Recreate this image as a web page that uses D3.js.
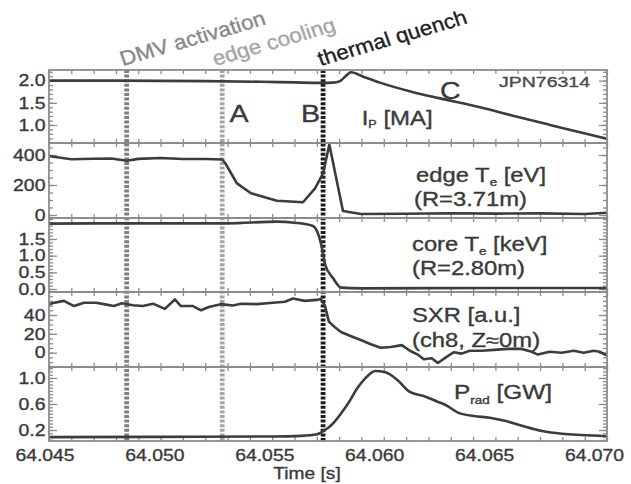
<!DOCTYPE html>
<html><head><meta charset="utf-8">
<script src="https://cdn.jsdelivr.net/npm/d3@7"></script>
<style>body{margin:0;background:#fff}svg{display:block}</style>
</head><body>
<script>
// ---------- data ----------
const timeDomain = [64.045, 64.070];
const timeTicks = [64.045, 64.050, 64.055, 64.060, 64.065, 64.070];
const eventTimes = [64.04848, 64.05276, 64.05728];
const eventNames = ["DMV activation", "edge cooling", "thermal quench"];

const ipTime = [64.04500, 64.04800, 64.05200, 64.05450, 64.05600, 64.05720, 64.05772, 64.05804, 64.05825, 64.05853, 64.05908, 64.05983, 64.06132, 64.06252, 64.06431, 64.06579, 64.06730, 64.06879, 64.07000];
const ipValues = [2.00, 2.00, 1.99, 1.975, 1.96, 1.95, 1.955, 1.99, 2.08, 2.19, 2.09, 1.955, 1.74, 1.60, 1.40, 1.21, 1.02, 0.835, 0.69];
const ipRange = [0.594, 2.24];
const ipTicks = [1.0, 1.5, 2.0];

const edgeTime = [64.04500, 64.04520, 64.04600, 64.04700, 64.04780, 64.04848, 64.04900, 64.05000, 64.05100, 64.05200, 64.05276, 64.05290, 64.05342, 64.05405, 64.05459, 64.05521, 64.05638, 64.05692, 64.05728, 64.05756, 64.05817, 64.05898, 64.06100, 64.06300, 64.06500, 64.06700, 64.06900, 64.07000];
const edgeValues = [393, 388, 372, 375, 377, 362, 374, 380, 373, 373, 370, 345, 211, 145, 122, 95, 85, 178, 278, 470, 27, 7, 8, 12, 9, 11, 7, 15];
const edgeRange = [-20, 480];
const edgeTicks = [0, 200, 400];

const coreTime = [64.04500, 64.04700, 64.05000, 64.05300, 64.05520, 64.05600, 64.05680, 64.05702, 64.05720, 64.05738, 64.05773, 64.05809, 64.05900, 64.06500, 64.07000];
const coreValues = [1.96, 1.97, 1.97, 1.97, 2.02, 1.99, 1.90, 1.72, 1.32, 0.72, 0.32, 0.04, 0.02, 0.03, 0.03];
const coreRange = [-0.09, 2.13];
const coreTicks = [0.0, 0.5, 1.0, 1.5];

const sxrTime = [64.04500, 64.04513, 64.04567, 64.04612, 64.04657, 64.04710, 64.04746, 64.04791, 64.04827, 64.04876, 64.04921, 64.04966, 64.05019, 64.05064, 64.05091, 64.05145, 64.05181, 64.05216, 64.05270, 64.05324, 64.05360, 64.05431, 64.05503, 64.05557, 64.05593, 64.05646, 64.05700, 64.05718, 64.05736, 64.05754, 64.05781, 64.05808, 64.05848, 64.05897, 64.05942, 64.05987, 64.06031, 64.06081, 64.06117, 64.06152, 64.06179, 64.06215, 64.06242, 64.06278, 64.06314, 64.06349, 64.06385, 64.06439, 64.06493, 64.06555, 64.06618, 64.06663, 64.06690, 64.06743, 64.06797, 64.06851, 64.06896, 64.06940, 64.06967, 64.07000];
const sxrValues = [51, 52.5, 55, 49.5, 53, 53, 51.5, 49.5, 52.5, 50.4, 49.5, 52, 46.5, 56.5, 49.5, 49.5, 45, 48.5, 51.5, 50, 52, 51.5, 53, 54, 57.5, 55, 56, 57, 50, 33, 27, 22, 18, 13.5, 9, 5.3, 6, 8, 2, -2, -7, -6, -11, -5, 0.5, -1, 2, 2, 3, 4, 4, 1, -2, 1, 0, 2, 0, 2, 1, -3];
const sxrRange = [-15.2, 64.4];
const sxrTicks = [0, 20, 40];

const pradTime = [64.04500, 64.05000, 64.05500, 64.05629, 64.05701, 64.05737, 64.05773, 64.05809, 64.05845, 64.05881, 64.05917, 64.05962, 64.06007, 64.06061, 64.06115, 64.06187, 64.06241, 64.06277, 64.06330, 64.06403, 64.06475, 64.06547, 64.06619, 64.06709, 64.06798, 64.06888, 64.07000];
const pradValues = [0.09, 0.095, 0.10, 0.11, 0.134, 0.20, 0.303, 0.457, 0.635, 0.842, 0.995, 1.108, 1.088, 0.969, 0.789, 0.712, 0.635, 0.585, 0.472, 0.415, 0.389, 0.338, 0.266, 0.185, 0.143, 0.123, 0.105];
const pradRange = [0.031, 1.169];
const pradTicks = [0.2, 0.6, 1.0];

// ---------- layout ----------
const W = 631, H = 484, L = 49, R = 607;
const FONT = "'Liberation Sans', Arial, Helvetica, sans-serif";
const SX = 1.22;
const TXT = "#3a3a3a";
const svg = d3.select("body").append("svg").attr("width", W).attr("height", H);
svg.append("rect").attr("width", W).attr("height", H).attr("fill", "#fff");

const x = d3.scaleLinear().domain(timeDomain).range([L, R]);
const xLabel = d3.scaleLinear().domain(timeDomain).range([44.5, 594]);
const bands = [[70, 143], [143, 218], [218, 292], [292, 367], [367, 441]];
const panels = [
  {t: ipTime, v: ipValues, dom: ipRange, majors: ipTicks, minor: d3.range(0.6, 2.21, 0.1), fmt: d3.format(".1f"), curve: d3.curveMonotoneX},
  {t: edgeTime, v: edgeValues, dom: edgeRange, majors: edgeTicks, minor: d3.range(0, 481, 50), fmt: d3.format("d"), curve: d3.curveLinear},
  {t: coreTime, v: coreValues, dom: coreRange, majors: coreTicks, minor: d3.range(0, 2.11, 0.1), fmt: d3.format(".1f"), curve: d3.curveMonotoneX},
  {t: sxrTime, v: sxrValues, dom: sxrRange, majors: sxrTicks, minor: d3.range(-15, 64.5, 5), fmt: d3.format("d"), curve: d3.curveLinear},
  {t: pradTime, v: pradValues, dom: pradRange, majors: pradTicks, minor: d3.range(0.05, 1.16, 0.05), fmt: d3.format(".1f"), curve: d3.curveMonotoneX}
];
const xMinor = d3.range(64.045, 64.07001, 0.001);
const frameColor = "#8c8c8c";

function styleAxis(g) {
  g.select(".domain").remove();
  g.selectAll(".tick line").attr("stroke", frameColor).attr("stroke-width", 1.3);
}
function boldish(sel, c) {
  sel.attr("stroke", c).attr("stroke-width", 0.35).attr("paint-order", "stroke");
}

panels.forEach((p, i) => {
  const [top, bot] = bands[i];
  const y = d3.scaleLinear().domain(p.dom).range([bot, top]);
  p.y = y;
  const lm = svg.append("g").attr("transform", `translate(${L},0)`)
    .call(d3.axisLeft(y).tickValues(p.minor).tickSize(-4).tickFormat(""));
  styleAxis(lm);
  const rm = svg.append("g").attr("transform", `translate(${R},0)`)
    .call(d3.axisRight(y).tickValues(p.minor).tickSize(-4).tickFormat(""));
  styleAxis(rm);
  const rM = svg.append("g").attr("transform", `translate(${R},0)`)
    .call(d3.axisRight(y).tickValues(p.majors).tickSize(-8).tickFormat(""));
  styleAxis(rM);
  const lM = svg.append("g").attr("transform", `translate(${L},0)`)
    .call(d3.axisLeft(y).tickValues(p.majors).tickSize(-8).tickPadding(3).tickFormat(p.fmt));
  styleAxis(lM);
  const tt = lM.selectAll(".tick text")
    .attr("font-family", FONT).attr("font-size", 16.5).attr("fill", TXT)
    .attr("transform", "scale(1.18,1)");
  boldish(tt, TXT);
  const xt = svg.append("g").attr("transform", `translate(0,${top})`)
    .call(d3.axisTop(x).tickValues(xMinor).tickSize(-4).tickFormat(""));
  styleAxis(xt);
  const xb = svg.append("g").attr("transform", `translate(0,${bot})`)
    .call(d3.axisBottom(x).tickValues(xMinor).tickSize(-4).tickFormat(""));
  styleAxis(xb);
});

// bottom tick labels
const xl = svg.append("g").attr("transform", `translate(0,441)`)
  .call(d3.axisBottom(xLabel).tickValues(timeTicks).tickSize(0).tickPadding(8).tickFormat(d3.format(".3f")));
xl.select(".domain").remove();
const xlt = xl.selectAll(".tick text").attr("font-family", FONT).attr("font-size", 17).attr("fill", TXT)
  .attr("transform", "scale(1.14,1)");
boldish(xlt, TXT);

// event lines
const eventColors = ["#7f7f7f", "#a6a6a6", "#1c1c1c"];
svg.selectAll("line.event").data(eventTimes).join("line").attr("class", "event")
  .attr("x1", d => x(d)).attr("x2", d => x(d)).attr("y1", 70).attr("y2", 441)
  .attr("stroke", (d, i) => eventColors[i]).attr("stroke-width", 4.8)
  .attr("stroke-dasharray", "3,1.6");

// data lines
panels.forEach(p => {
  const line = d3.line().x(d => x(d[0])).y(d => p.y(d[1])).curve(p.curve);
  svg.append("path").datum(d3.zip(p.t, p.v)).attr("d", line)
    .attr("fill", "none").attr("stroke", "#3c3c3c").attr("stroke-width", 2.6)
    .attr("stroke-linejoin", "round");
});

// frames
bands.forEach(([top, bot]) => {
  svg.append("rect").attr("x", L).attr("y", top).attr("width", R - L).attr("height", bot - top)
    .attr("fill", "none").attr("stroke", frameColor).attr("stroke-width", 1.8);
});

// text helper
function stext(px, py, size, opts = {}) {
  const t = svg.append("text")
    .attr("transform", `translate(${px},${py}) scale(${opts.sx || SX},1)${opts.rot ? ` rotate(${opts.rot})` : ""}`)
    .attr("font-family", FONT).attr("font-size", size)
    .attr("fill", opts.fill || TXT).attr("text-anchor", opts.anchor || "start");
  boldish(t, opts.fill || TXT);
  return t;
}

// event labels
const eventLabelColors = ["#888", "#a5a5a5", "#1e1e1e"];
const eventLabelShift = [-4, -7, -2.5];
eventTimes.forEach((t, i) => {
  stext(x(t) + eventLabelShift[i], 66, 20.5, {rot: -17.7, sx: 1.1, fill: eventLabelColors[i]}).text(eventNames[i]);
});

// annotations
stext(229.5, 121.7, 23.5).text("A");
stext(301, 121.7, 23.5).text("B");
stext(440, 98.5, 23.5).text("C");
stext(590, 86.7, 15, {anchor: "end", sx: 1.3, fill: "#4a4a4a"}).text("JPN76314");

let t1 = stext(361.7, 124.5, 20, {sx: 1.2});
t1.append("tspan").text("I");
t1.append("tspan").attr("font-size", 10.5).attr("dy", 3).text("P");
t1.append("tspan").attr("dy", -3).text(" [MA]");

let t2 = stext(416, 182, 19.5);
t2.append("tspan").text("edge T");
t2.append("tspan").attr("font-size", 11).attr("dy", 4).text("e");
t2.append("tspan").attr("dy", -4).text(" [eV]");
stext(414, 206, 19.5).text("(R=3.71m)");

let t3 = stext(412, 251, 19.5);
t3.append("tspan").text("core T");
t3.append("tspan").attr("font-size", 11).attr("dy", 4).text("e");
t3.append("tspan").attr("dy", -4).text(" [keV]");
stext(412, 275, 19.5).text("(R=2.80m)");

stext(412, 322, 19.5).text("SXR [a.u.]");
stext(412, 347, 19.5).text("(ch8, Z≈0m)");

let t5 = stext(454, 399, 20);
t5.append("tspan").text("P");
t5.append("tspan").attr("font-size", 11).attr("dy", 5).text("rad");
t5.append("tspan").attr("dy", -5).text(" [GW]");

stext(307, 479, 17, {anchor: "middle", sx: 1.13}).text("Time [s]");
</script>
</body></html>
